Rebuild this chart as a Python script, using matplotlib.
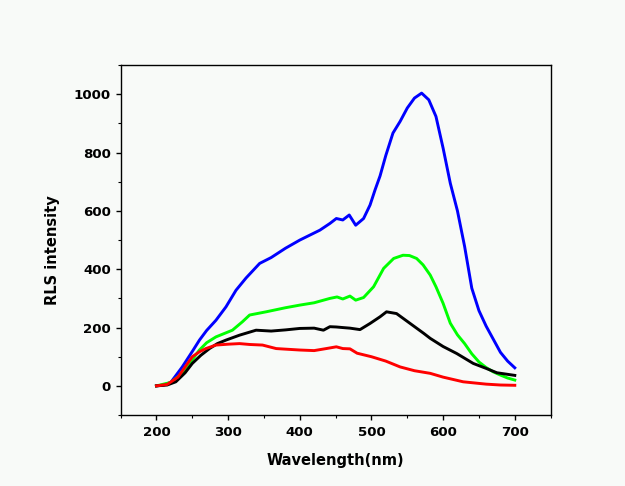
import numpy as np
from matplotlib import pyplot as plt
from matplotlib.ticker import MultipleLocator

# wavelength grids (nm) and RLS intensities
wl_blue = [200, 210, 220, 236, 250, 260, 270, 283, 297, 311, 325, 344, 360, 380, 400, 428,
           442, 451, 460, 469, 478, 489, 498, 505, 512, 520, 530, 540, 550, 560, 570, 580,
           590, 600, 610, 620, 630, 640, 650, 660, 670, 680, 690, 700]
blue = [0, 3, 12, 65, 118, 157, 190, 225, 271, 328, 370, 420, 440, 472, 500, 534,
        557, 574, 569, 586, 551, 574, 620, 672, 720, 790, 867, 907, 953, 987, 1004, 981,
        924, 815, 695, 600, 478, 335, 258, 205, 160, 115, 85, 62]

wl_green = [200, 220, 236, 250, 260, 270, 283, 306, 320, 330, 353, 380, 400, 420, 442, 452,
            460, 470, 478, 489, 503, 517, 531, 544, 553, 563, 572, 582, 590, 600, 610, 620,
            630, 640, 650, 660, 670, 680, 690, 700]
green = [0, 12, 43, 90, 123, 148, 168, 191, 220, 243, 254, 268, 277, 285, 300, 305,
         298, 308, 294, 303, 340, 403, 437, 448, 447, 437, 415, 380, 340, 283, 215, 175,
         145, 110, 82, 63, 48, 37, 27, 20]

wl_black = [200, 215, 227, 240, 250, 262, 274, 285, 297, 316, 339, 360, 380, 400, 420, 433,
            442, 451, 460, 470, 484, 498, 512, 521, 535, 554, 573, 582, 600, 619, 642, 660,
            675, 700]
black = [0, 3, 14, 45, 77, 105, 128, 145, 157, 174, 191, 188, 192, 197, 198, 191,
         203, 202, 200, 198, 193, 214, 237, 254, 248, 214, 180, 163, 135, 111, 77, 60,
         45, 36]

wl_red = [200, 215, 230, 240, 250, 260, 269, 283, 300, 316, 330, 348, 367, 380, 400, 420,
          437, 451, 460, 470, 480, 500, 520, 540, 560, 582, 600, 628, 660, 680, 700]
red = [0, 5, 30, 65, 100, 117, 128, 140, 143, 145, 142, 140, 128, 126, 123, 121,
       128, 134, 128, 127, 112, 100, 85, 65, 52, 43, 30, 14, 6, 3, 2]

bg = '#f8faf8'
fig = plt.figure(figsize=(6.25, 4.86), dpi=100, facecolor=bg)
ax = fig.add_axes([0.193, 0.146, 0.688, 0.720])
ax.set_facecolor(bg)

lw = 2.1
ax.plot(wl_blue, blue, color='#0000ff', lw=lw)
ax.plot(wl_green, green, color='#00ff00', lw=lw)
ax.plot(wl_black, black, color='black', lw=lw)
ax.plot(wl_red, red, color='#ff0000', lw=lw)

ax.set_xlim(150, 750)
ax.set_ylim(-100, 1100)
ax.xaxis.set_major_locator(MultipleLocator(100))
ax.xaxis.set_minor_locator(MultipleLocator(50))
ax.yaxis.set_major_locator(MultipleLocator(200))
ax.yaxis.set_minor_locator(MultipleLocator(100))
ax.set_xticks(np.arange(200, 701, 100))

for s in ax.spines.values():
    s.set_linewidth(1.0)
ax.tick_params(which='major', direction='out', length=3.6, width=1.0, labelsize=9.6, pad=3.5)
ax.tick_params(which='minor', direction='out', length=2.2, width=0.8)
ax.tick_params(axis='x', which='major', pad=4.5)
for lab in ax.get_xticklabels() + ax.get_yticklabels():
    lab.set_fontweight('bold')

ax.set_xlabel('Wavelength(nm)', fontsize=10.5, fontweight='bold')
ax.set_ylabel('RLS intensity', fontsize=10.5, fontweight='bold')
ax.xaxis.set_label_coords(0.5, -0.109)
ax.yaxis.set_label_coords(-0.14, 0.47)

fig.savefig('out.png', dpi=100, facecolor=bg)
